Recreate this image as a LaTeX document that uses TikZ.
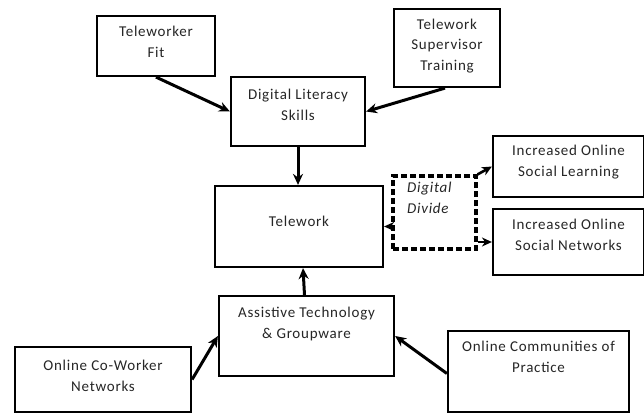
\documentclass[tikz,border=0pt]{standalone}
\usepackage{fontspec}
\setmainfont{Carlito}[LetterSpace=5]
\usetikzlibrary{arrows.meta}
\begin{document}
\begin{tikzpicture}[x=1pt,y=-1pt,
  box/.style={draw,line width=2.2pt,inner sep=0pt},
  txt/.style={align=center,font=\fontsize{15}{20.5}\selectfont,inner sep=0pt,text=black!85},
  arr/.style={line width=3pt,-{Stealth[length=11pt,width=10pt]}},
  sarr/.style={line width=2.6pt,-{Stealth[length=10pt,width=9pt]}},
  ddbox/.style={draw,line width=3.2pt,dash pattern=on 6pt off 3pt,inner sep=0pt}]
\useasboundingbox[fill=white] (0,0) rectangle (644,414);
% boxes
\node[box,minimum width=118pt,minimum height=60pt] (fit) at (156,46) {};
\node[txt] (fitt) at (156,42) {Teleworker\\Fit};
\node[box,minimum width=106pt,minimum height=78pt] (sup) at (447,48) {};
\node[txt] (supt) at (447,46) {Telework\\Supervisor\\Training};
\node[box,minimum width=134pt,minimum height=69pt] (dls) at (298,111.5) {};
\node[txt] (dlst) at (298,105) {Digital Literacy\\Skills};
\node[box,minimum width=168pt,minimum height=81pt] (tw) at (299,226.5) {};
\node[txt] (twt) at (299,221) {Telework};
\node[ddbox,minimum width=83pt,minimum height=73pt] (dd) at (434.5,212.5) {};
\node[txt,align=left,anchor=west,font=\fontsize{15}{20.5}\selectfont\itshape] (ddt) at (407,198) {Digital\\Divide};
\node[box,minimum width=151pt,minimum height=61pt] (sl) at (568.5,166.5) {};
\node[txt] (slt) at (568.5,162) {Increased Online\\Social Learning};
\node[box,minimum width=151pt,minimum height=66pt] (sn) at (568.5,242) {};
\node[txt] (snt) at (568.5,235) {Increased Online\\Social Networks};
\node[box,minimum width=175pt,minimum height=80pt] (at) at (306.5,336) {};
\node[txt] (att) at (306.5,324) {Assistive Technology\\\& Groupware};
\node[box,minimum width=176pt,minimum height=65pt] (cw) at (103,379.5) {};
\node[txt] (cwt) at (103,376) {Online Co-Worker\\Networks};
\node[box,minimum width=181pt,minimum height=81pt] (oc) at (538.5,371.5) {};
\node[txt] (oct) at (538.5,357) {Online Communities of\\Practice};
% connectors
\draw[arr] (fit.south) -- (dls.west);
\draw[arr] ([xshift=-2pt]sup.south) -- (dls.east);
\draw[arr] (dls.south) -- (dls.south |- tw.north);
\draw[arr] ([xshift=-2pt]at.north) -- ([xshift=4pt]tw.south);
\draw[arr] (cw.east) -- (at.west);
\draw[arr] ([yshift=-2pt]oc.west) -- (at.east);
\draw[sarr] (dd.west |- tw.east) -- (tw.east);
\draw[sarr] (dd.north east) -- (sl.west);
\draw[sarr] (dd.east |- sn.west) -- (sn.west);
\end{tikzpicture}
\end{document}
